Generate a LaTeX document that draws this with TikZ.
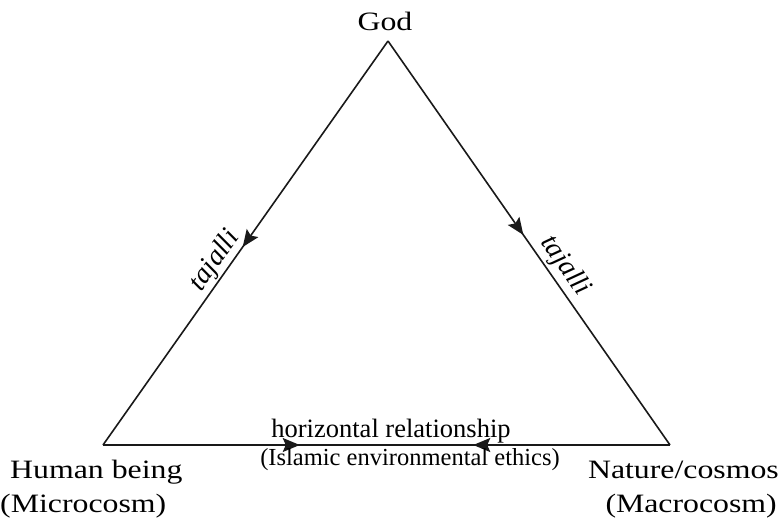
\documentclass[tikz,border=0pt]{standalone}
\usepackage{fontspec}
\setmainfont{Liberation Serif}
\newfontfamily\widefont[FakeStretch=1.2]{Liberation Serif}
\usetikzlibrary{arrows.meta,decorations.markings}
\begin{document}
\begin{tikzpicture}[x=1pt,y=-1pt,
	edge/.style={line width=1.6pt, draw=black!90},
	headtip/.tip={Stealth[length=17pt,width=14pt,inset=3pt]}]
				\newcommand{\mylabelfont}[1]{
					\widefont\fontsize{26.5}{34}\selectfont{#1}
				}\newcommand{\mymidfont}[1]{
					\fontsize{26.5}{28}\selectfont{#1}
				}%Frame
				\useasboundingbox (0,0) rectangle (779,519);
				%Corners of the triangle
				\coordinate (god) at (388,41);
				\coordinate (human) at (103,445);
				\coordinate (nature) at (670,445);
				%Left side, God down to Human being
				\draw [edge, postaction={decorate, decoration={markings,
					mark=at position 0.51 with {\arrow{headtip}}}}]
					(god) -- node [pos=0.565, sloped, above, inner sep=1pt] (tajL) {\fontsize{28}{30}\selectfont\itshape tajalli} (human);
				%Right side, God down to Nature/cosmos
				\draw [edge, postaction={decorate, decoration={markings,
					mark=at position 0.48 with {\arrow{headtip}}}}]
					(god) -- node [pos=0.58, sloped, above, inner sep=3pt] (tajR) {\fontsize{28}{30}\selectfont\itshape tajalli} (nature);
				%Bottom side, both arrows pointing inwards
				\draw [edge, postaction={decorate, decoration={markings,
					mark=at position 0.347 with {\arrow{headtip}},
					mark=at position 0.653 with {\arrowreversed{headtip}}}}]
					(human) -- (nature);
				%The labels at the corners
				\node [anchor=base] (godlabel) at (385,31) {\mylabelfont{God}};
				\node [anchor=base west, inner sep=0pt] (humanlabel) at (10,478) {\mylabelfont{Human being}};
				\node [anchor=base west, inner sep=0pt] (microlabel) at (0,512) {\mylabelfont{(Microcosm)}};
				\node [anchor=base east, inner sep=0pt] (naturelabel) at (779,478) {\mylabelfont{Nature/cosmos}};
				\node [anchor=base east, inner sep=0pt] (macrolabel) at (777,512) {\mylabelfont{(Macrocosm)}};
				%The text along the bottom side
				\node [anchor=base] (horiz) at (391,437) {\mymidfont{horizontal relationship}};
				\node [anchor=base] (ethics) at (410,465) {\fontsize{24.5}{28}\selectfont (Islamic environmental ethics)};
\end{tikzpicture}
\end{document}
